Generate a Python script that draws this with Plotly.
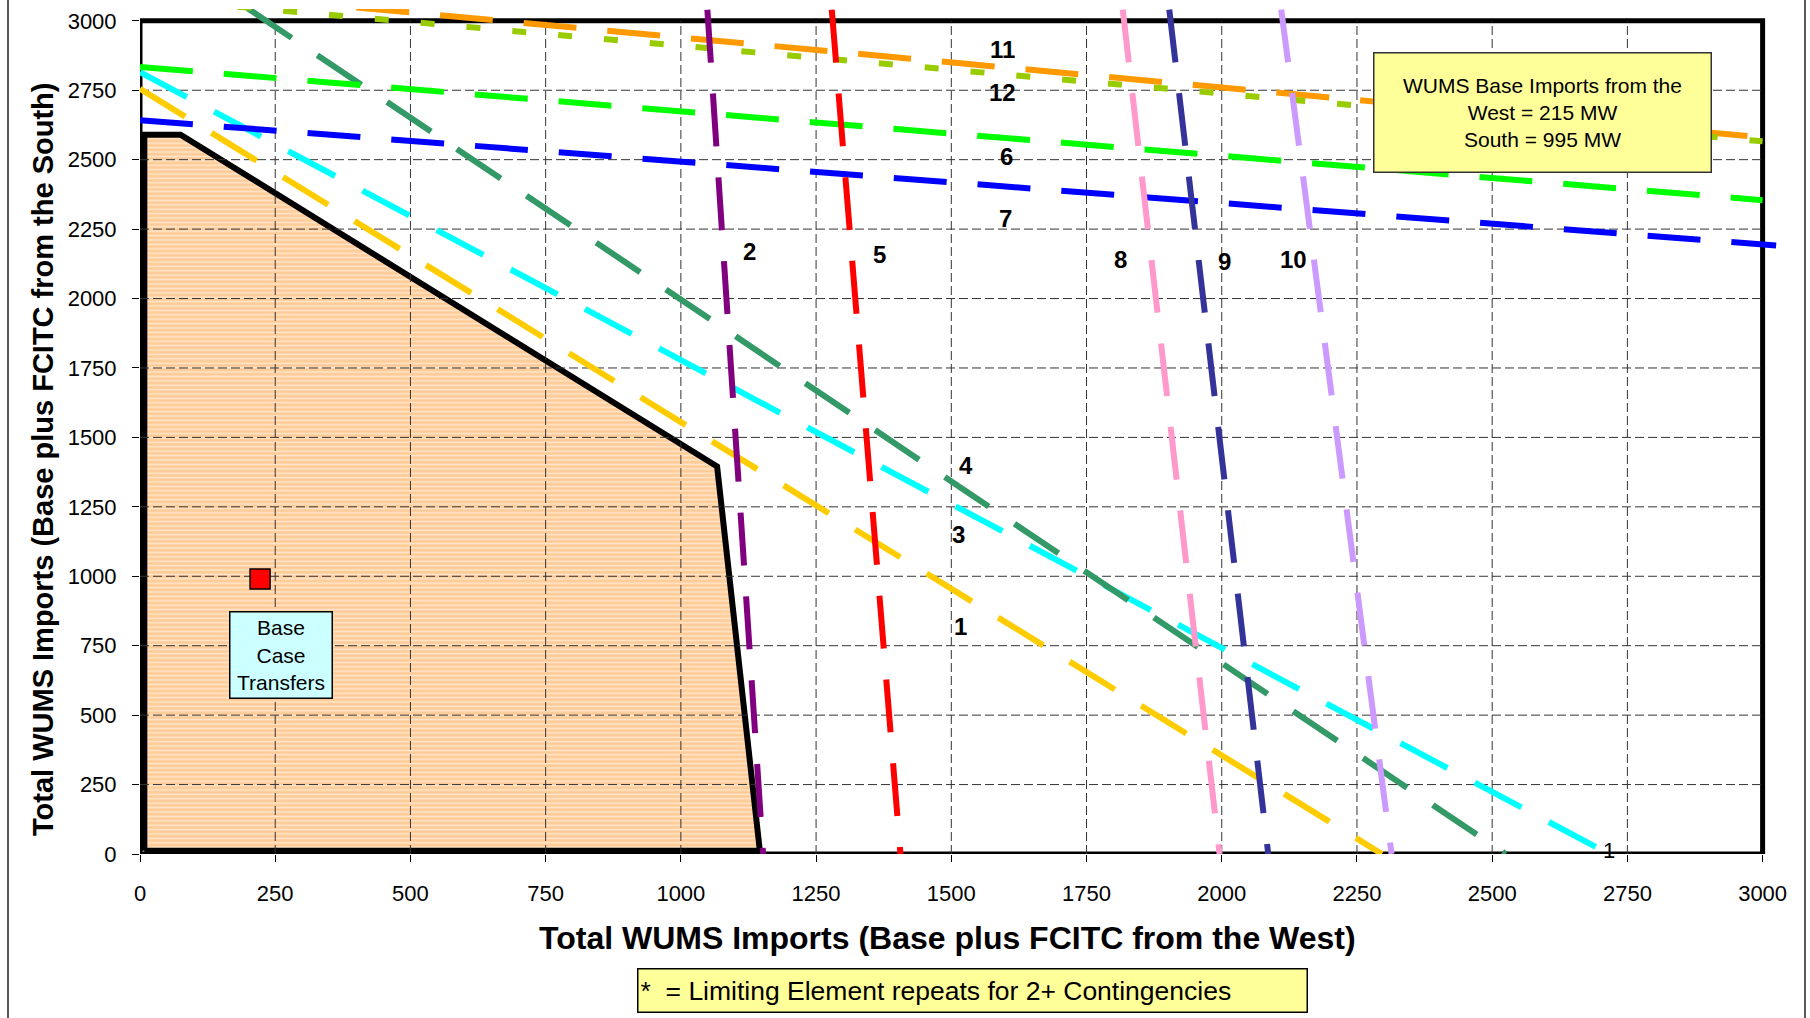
import plotly.graph_objects as go

# ---------------- data ----------------
x_ticks = [0, 250, 500, 750, 1000, 1250, 1500, 1750, 2000, 2250, 2500, 2750, 3000]
y_ticks = [0, 250, 500, 750, 1000, 1250, 1500, 1750, 2000, 2250, 2500, 2750, 3000]

# limiting-element lines (endpoints)
line1_x = [0, 2296];    line1_y = [2755, 0]       # gold
line2_x = [1049, 1152]; line2_y = [3040, 0]       # purple
line3_x = [0, 2716];    line3_y = [2815, 0]       # cyan
line4_x = [199, 2525];  line4_y = [3045, 0]       # sea green
line5_x = [1279, 1406]; line5_y = [3040, 0]       # red
line6_x = [0, 3000];    line6_y = [2834, 2354]    # green
line7_x = [0, 3025];    line7_y = [2642, 2191]    # blue
line8_x = [1817, 1996]; line8_y = [3040, 0]       # pink
line9_x = [1903, 2086]; line9_y = [3040, 0]       # navy
line10_x = [2110, 2314]; line10_y = [3040, 0]     # lilac
line11_x = [400, 3000]; line11_y = [3048, 2580]   # orange
line12_x = [180, 3000]; line12_y = [3051, 2566]   # yellow-green

# feasible region
region_x = [8, 8, 75, 1067, 1146, 8]
region_y = [12, 2590, 2590, 1395, 12, 12]

# base case transfers
base_x = [222]
base_y = [990]

# line labels
label_text = ["11", "12", "6", "7", "2", "5", "8", "9", "10", "4", "3", "1"]
label_x = [1594, 1594, 1602, 1600, 1126, 1367, 1812, 2005, 2132, 1528, 1513, 1517]
label_y = [2895, 2743, 2510, 2288, 2168, 2160, 2140, 2134, 2140, 1400, 1151, 818]

# ---------------- layout geometry ----------------
W, H = 1810, 1018
ML, MR, MT, MB = 140, 31, 9, 164
PW = W - ML - MR
PH = H - MT - MB
X_MAX = 3030.3
Y_MAX = 3042.5
FONT = "Liberation Sans, Arial, sans-serif"


def paper_x(px):
    return (px - ML) / PW


def paper_y(py):
    return (H - MB - py) / PH


fig = go.Figure()

# feasible region (orange, narrow horizontal white stripes)
fig.add_trace(go.Scatter(
    x=region_x, y=region_y, mode="lines", fill="toself",
    fillcolor="#FFCC99",
    fillpattern=dict(shape="-", fgcolor="#FFFFFF", bgcolor="#FFCC99", size=4.4, solidity=0.32),
    line=dict(color="black", width=6), hoverinfo="skip", showlegend=False))

# dashed gridlines
gx, gy = [], []
for v in x_ticks[1:-1]:
    gx += [v, v, None]
    gy += [y_ticks[0], y_ticks[-1], None]
for v in y_ticks[1:-1]:
    gx += [x_ticks[0], x_ticks[-1], None]
    gy += [v, v, None]
fig.add_trace(go.Scatter(x=gx, y=gy, mode="lines",
                         line=dict(color="#333333", width=1, dash="9px,4px"),
                         hoverinfo="skip", showlegend=False))

LONG = "53px,31px"
series = [
    (line1_x, line1_y, "#FFCC00", LONG),
    (line3_x, line3_y, "#00FFFF", LONG),
    (line4_x, line4_y, "#339966", LONG),
    (line6_x, line6_y, "#00FF00", LONG),
    (line7_x, line7_y, "#0000FF", LONG),
    (line11_x, line11_y, "#FF9900", LONG),
    (line12_x, line12_y, "#99CC00", "14px,32px"),
    (line2_x, line2_y, "#800080", LONG),
    (line5_x, line5_y, "#FF0000", LONG),
    (line8_x, line8_y, "#FF99CC", LONG),
    (line9_x, line9_y, "#333399", LONG),
    (line10_x, line10_y, "#CC99FF", LONG),
]
for xs, ys, col, dash in series:
    fig.add_trace(go.Scatter(x=xs, y=ys, mode="lines",
                             line=dict(color=col, width=6, dash=dash),
                             hoverinfo="skip", showlegend=False))

# base case point
fig.add_trace(go.Scatter(x=base_x, y=base_y, mode="markers",
                         marker=dict(symbol="square", size=20, color="#FF0000",
                                     line=dict(color="black", width=1.5)),
                         hoverinfo="skip", showlegend=False))

annotations = []
for t, x, y in zip(label_text, label_x, label_y):
    annotations.append(dict(x=x, y=y, xref="x", yref="y", text=t, showarrow=False,
                            xanchor="center", yanchor="middle",
                            font=dict(family=FONT, size=24, color="black", weight="bold")))
annotations.append(dict(x=line3_x[1], y=12, xref="x", yref="y", text="1", showarrow=False,
                        xanchor="center", yanchor="middle",
                        font=dict(family=FONT, size=22, color="black")))

# info boxes
annotations.append(dict(x=paper_x(1542.5), y=paper_y(112.8), xref="paper", yref="paper",
                        xanchor="center", yanchor="middle",
                        text="WUMS Base Imports from the<br>West = 215 MW<br>South = 995 MW",
                        showarrow=False, width=336, height=118, align="center", valign="middle",
                        bgcolor="#FFFF99", bordercolor="#333333", borderwidth=1.5, borderpad=0,
                        font=dict(family=FONT, size=21, color="black")))
annotations.append(dict(x=paper_x(281.2), y=paper_y(655.2), xref="paper", yref="paper",
                        xanchor="center", yanchor="middle",
                        text="Base<br>Case<br>Transfers",
                        showarrow=False, width=101, height=85, align="center", valign="middle",
                        bgcolor="#CCFFFF", bordercolor="black", borderwidth=1.5, borderpad=0,
                        font=dict(family=FONT, size=21, color="black")))
annotations.append(dict(x=paper_x(973), y=paper_y(990.4), xref="paper", yref="paper",
                        xanchor="center", yanchor="middle",
                        text="*  = Limiting Element repeats for 2+ Contingencies",
                        showarrow=False, width=664, height=38, align="left", valign="middle",
                        bgcolor="#FFFF99", bordercolor="black", borderwidth=1.5, borderpad=2,
                        font=dict(family=FONT, size=26.5, color="black")))

# axis titles
annotations.append(dict(x=paper_x(947.5), y=paper_y(938), xref="paper", yref="paper",
                        text="Total WUMS Imports (Base plus FCITC from the West)",
                        showarrow=False, xanchor="center", yanchor="middle",
                        font=dict(family=FONT, size=32, color="black", weight="bold")))
annotations.append(dict(x=paper_x(43), y=paper_y(460), xref="paper", yref="paper",
                        text="Total WUMS Imports (Base plus FCITC from the South)",
                        showarrow=False, textangle=-90, xanchor="center", yanchor="middle",
                        font=dict(family=FONT, size=29, color="black", weight="bold")))

shapes = [
    dict(type="rect", xref="x", yref="y", x0=x_ticks[0], y0=y_ticks[0],
         x1=x_ticks[-1], y1=y_ticks[-1], line=dict(color="black", width=5), layer="below"),
    dict(type="line", xref="paper", yref="paper", x0=paper_x(8), x1=paper_x(8),
         y0=paper_y(0), y1=paper_y(H), line=dict(color="#222222", width=1.5)),
    dict(type="line", xref="paper", yref="paper", x0=paper_x(1805), x1=paper_x(1805),
         y0=paper_y(0), y1=paper_y(H), line=dict(color="#222222", width=1.5)),
]

fig.update_layout(
    width=W, height=H, margin=dict(l=ML, r=MR, t=MT, b=MB),
    paper_bgcolor="white", plot_bgcolor="white",
    showlegend=False, annotations=annotations, shapes=shapes,
    font=dict(family=FONT, color="black"),
)
fig.update_xaxes(range=[0, X_MAX], tickvals=x_ticks, ticktext=[str(v) for v in x_ticks],
                 ticks="outside", ticklen=7, tickwidth=1, tickcolor="black",
                 showgrid=False, zeroline=False, showline=False,
                 tickfont=dict(family=FONT, size=22, color="black"), ticklabelstandoff=13)
fig.update_yaxes(range=[0, Y_MAX], tickvals=y_ticks, ticktext=[str(v) for v in y_ticks],
                 ticks="outside", ticklen=7, tickwidth=1, tickcolor="black",
                 showgrid=False, zeroline=False, showline=False,
                 tickfont=dict(family=FONT, size=22, color="black"), ticklabelstandoff=11)

fig.write_html("out.html")
